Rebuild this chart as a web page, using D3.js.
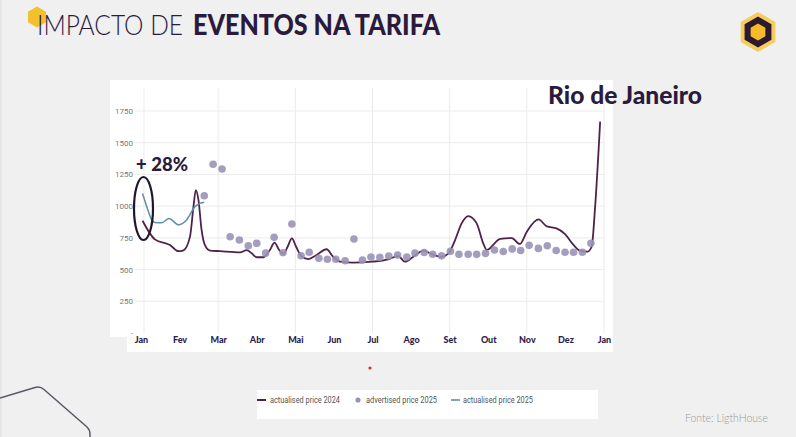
<!DOCTYPE html>
<html><head><meta charset="utf-8">
<script src="https://cdn.jsdelivr.net/npm/d3@7"></script>
<style>
html,body{margin:0;padding:0;background:#f0f0f0;}
svg{display:block;}
</style></head>
<body>
<svg id="c" width="796" height="437"></svg>
<script>
// ---- data ----
const monthLabels = ["Jan","Fev","Mar","Abr","Mai","Jun","Jul","Ago","Set","Out","Nov","Dez","Jan"];
const yTickValues = [250, 500, 750, 1000, 1250, 1500, 1750];

// actualised price 2024 (position in months from 1 Jan, price)
const actual2024Month = [0.04,0.23,0.36,0.75,0.97,1.10,1.27,1.36,1.42,1.49,1.57,1.66,1.79,2.05,2.57,2.74,2.87,3.00,3.17,3.34,3.46,3.58,3.69,3.80,3.91,4.02,4.17,4.34,4.55,4.81,4.98,5.16,5.50,5.98,6.41,6.67,6.84,7.06,7.32,7.58,7.79,7.97,8.14,8.31,8.48,8.70,8.87,8.96,9.31,9.61,9.82,10.00,10.30,10.52,10.77,10.99,11.21,11.38,11.57,11.68,11.77,11.90];
const actual2024Price = [885,786,738,694,645,652,760,996,1127,1048,812,690,650,645,636,654,628,597,597,654,712,654,623,680,746,680,601,583,615,660,601,562,554,562,581,607,562,601,649,615,601,628,733,864,922,864,707,655,742,748,702,799,896,840,825,780,694,649,641,680,996,1666];

// actualised price 2025
const actual2025Month = [0.04,0.15,0.28,0.36,0.54,0.73,0.97,1.18,1.40,1.53,1.64];
const actual2025Price = [1100,996,891,872,870,903,853,891,996,1022,1030];

// advertised price 2025 (weekly)
const advert2025Month = [1.64,1.87,2.10,2.31,2.55,2.78,3.00,3.23,3.45,3.68,3.91,4.15,4.36,4.61,4.83,5.05,5.29,5.52,5.74,5.96,6.19,6.42,6.65,6.89,7.10,7.34,7.56,7.79,8.02,8.24,8.48,8.70,8.93,9.16,9.39,9.62,9.84,10.06,10.30,10.53,10.76,10.99,11.21,11.44,11.66];
const advert2025Price = [1082,1330,1293,759,733,688,707,630,754,633,859,609,636,589,581,581,570,741,575,599,597,607,615,599,630,635,621,608,645,621,621,620,628,654,642,663,650,691,667,688,650,637,636,636,707];

const legendLabels = ["actualised price 2024","advertised price 2025","actualised price 2025"];

// ---- drawing ----
const svg = d3.select("#c");
const C2024 = "#4e2249", C2025 = "#5f8fa4", CDOT = "#9a92b6", DARK = "#2a1b3d";

svg.append("rect").attr("width",796).attr("height",437).attr("fill","#f0f0f0");
svg.append("line").attr("x1",1).attr("x2",1).attr("y1",0).attr("y2",437).attr("stroke","#dcdcdc");

// title hexagon + title
function hexPts(cx, cy, r){ return d3.range(6).map(i=>{const a=Math.PI/180*(60*i-90);return [cx+r*Math.cos(a),cy+r*Math.sin(a)];}).map(p=>p.join(",")).join(" "); }
svg.append("polygon").attr("points",hexPts(37,17,10.5)).attr("fill","#f5c02e");
const t = svg.append("text").attr("x",37).attr("y",35).attr("font-family","Lato, 'Open Sans', sans-serif").attr("font-size",28).attr("fill",DARK);
t.append("tspan").attr("font-weight",300).attr("textLength",146).attr("lengthAdjust","spacingAndGlyphs").text("IMPACTO DE");
t.append("tspan").attr("x",193).attr("font-weight",900).attr("textLength",247).attr("lengthAdjust","spacingAndGlyphs").text("EVENTOS NA TARIFA");

// logo
svg.append("polygon").attr("points",hexPts(758,32,20)).attr("fill","#f6cd5c");
svg.append("polygon").attr("points",hexPts(758,32,15.5)).attr("fill","#2d1a2e");
svg.append("polygon").attr("points",hexPts(758,32,8.5)).attr("fill","#f6bb28");

// panel
svg.append("rect").attr("x",110).attr("y",80).attr("width",503).attr("height",257).attr("fill","#fff");
svg.append("rect").attr("x",127).attr("y",337).attr("width",486).attr("height",15).attr("fill","#fff");

const x = d3.scaleLinear().domain([0,12]).range([141,604]);
const y = d3.scaleLinear().domain([0,1750]).range([333,111]);

// gridlines
const g = svg.append("g");
g.selectAll("line.h").data(yTickValues).join("line")
  .attr("x1",135).attr("x2",604).attr("y1",d=>y(d)).attr("y2",d=>y(d))
  .attr("stroke","#ebebeb").attr("stroke-width",1);
g.selectAll("line.v").data(d3.range(0,13,2)).join("line")
  .attr("x1",d=>x(d)+ (d===0?3:0)).attr("x2",d=>x(d)+(d===0?3:0)).attr("y1",88).attr("y2",333)
  .attr("stroke","#ebebeb").attr("stroke-width",1);

// y axis labels
const yAxis = d3.axisLeft(y).tickValues([0].concat(yTickValues)).tickSize(0).tickPadding(0)
  .tickFormat(d=> d===0 ? "-" : d);
const ya = svg.append("g").attr("transform","translate(133,0)").call(yAxis);
ya.select(".domain").remove();
ya.selectAll("text").attr("font-family","Roboto, sans-serif").attr("font-size",8).attr("fill","#777").attr("dy","0.32em");

// x axis labels
const xAxis = d3.axisBottom(x).tickValues(d3.range(13)).tickSize(0).tickPadding(0).tickFormat(i=>monthLabels[i]);
const xa = svg.append("g").attr("transform","translate(0,337)").call(xAxis);
xa.select(".domain").remove();
xa.selectAll("text").attr("font-family","Lato, sans-serif").attr("font-weight",900).attr("font-size",9).attr("fill","#2d1b4e").attr("dy","0.71em");

// series
const line = d3.line().x(d=>x(d[0])).y(d=>y(d[1])).curve(d3.curveMonotoneX);
svg.append("path").datum(d3.zip(actual2024Month, actual2024Price)).attr("d",line)
  .attr("fill","none").attr("stroke",C2024).attr("stroke-width",1.8).attr("stroke-linejoin","round");
svg.selectAll("circle.adv").data(d3.zip(advert2025Month, advert2025Price)).join("circle")
  .attr("cx",d=>x(d[0])).attr("cy",d=>y(d[1])).attr("r",3.8).attr("fill",CDOT).attr("opacity",0.9);
svg.append("path").datum(d3.zip(actual2025Month, actual2025Price)).attr("d",line)
  .attr("fill","none").attr("stroke",C2025).attr("stroke-width",1.5);

// annotations
svg.append("text").attr("x",136).attr("y",171).attr("font-family","Lato, sans-serif").attr("font-weight",900)
  .attr("font-size",18).attr("fill",DARK).attr("textLength",52).attr("lengthAdjust","spacingAndGlyphs").text("+ 28%");
svg.append("ellipse").attr("cx",143.5).attr("cy",208.5).attr("rx",9.5).attr("ry",31.5)
  .attr("fill","none").attr("stroke","#1e1530").attr("stroke-width",2.2);
svg.append("text").attr("x",548).attr("y",104).attr("font-family","Lato, sans-serif").attr("font-weight",900)
  .attr("font-size",24).attr("fill",DARK).attr("textLength",154).attr("lengthAdjust","spacingAndGlyphs").text("Rio de Janeiro");

// red dot
svg.append("circle").attr("cx",370).attr("cy",368).attr("r",1.6).attr("fill","#d0312d");

// legend
svg.append("rect").attr("x",257).attr("y",390).attr("width",341).attr("height",29).attr("fill","#fff");
const lg = svg.append("g").attr("font-family","Roboto, sans-serif").attr("font-size",8.5).attr("fill","#555");
svg.append("line").attr("x1",257).attr("x2",266).attr("y1",400).attr("y2",400).attr("stroke",C2024).attr("stroke-width",2);
svg.append("circle").attr("cx",358).attr("cy",400).attr("r",2.6).attr("fill",CDOT);
svg.append("line").attr("x1",451).attr("x2",460).attr("y1",400).attr("y2",400).attr("stroke",C2025).attr("stroke-width",1.6);
const lx = [270, 366, 463], lw = [70, 71, 70];
legendLabels.forEach((s,i)=>{
  lg.append("text").attr("x",lx[i]).attr("y",403).attr("textLength",lw[i]).attr("lengthAdjust","spacingAndGlyphs").text(s);
});

// source
svg.append("text").attr("x",685).attr("y",422).attr("font-family","Lato, sans-serif").attr("font-weight",300)
  .attr("font-size",11).attr("fill","#9a9a9a").attr("textLength",83).attr("lengthAdjust","spacingAndGlyphs").text("Fonte: LigthHouse");

// decorative corner line
svg.append("path").attr("d","M0,398 L35,387.5 Q40,386 44,389.5 L87,427 Q90,430 90,434 L90,437")
  .attr("fill","none").attr("stroke","#5a5868").attr("stroke-width",1.5);
</script>
</body></html>
